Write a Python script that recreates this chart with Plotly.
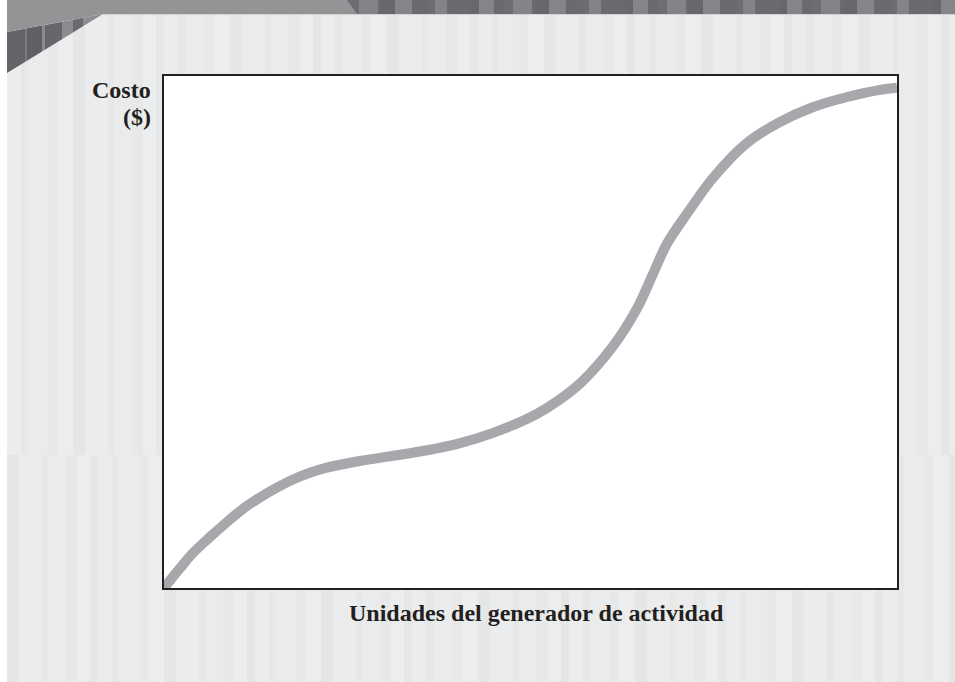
import plotly.graph_objects as go

# 曲线 (读图估计, 0-100 相对单位)
units = [0, 2.2, 4.0, 6.3, 8.6, 10.8, 13.1, 15.4, 17.6, 19.9, 22.2, 26.7, 31.2, 35.9,
         40.4, 44.9, 49.5, 52.3, 56.8, 61.3, 64.5, 66.7, 68.6, 71.4, 74.9, 79.5, 84.0,
         88.5, 93.2, 97.7, 100]
cost = [0, 3.9, 6.9, 10.0, 12.9, 15.5, 17.7, 19.6, 21.2, 22.5, 23.5, 24.8, 25.8, 26.9,
        28.3, 30.3, 33.0, 35.2, 40.0, 47.3, 54.5, 61.3, 67.2, 73.2, 80.1, 86.9, 91.0,
        93.9, 95.9, 97.3, 97.7]
x_label = 'Unidades del generador de actividad'
y_label = ['Costo', '($)']

W, H = 955, 682
TXT = '#231f20'
FONT = 'Liberation Serif'


def px(x):
    return x / W


def py(y):
    return 1 - y / H


def stripes(x_start, x_end, y0, y1, widths, colors, offset=0):
    """竖条纹背景 (像素坐标 -> paper)"""
    out = []
    x = x_start
    i = offset
    while x < x_end:
        w = widths[i % len(widths)]
        x2 = min(x + w, x_end)
        out.append(dict(type='rect', xref='paper', yref='paper',
                        x0=px(x), x1=px(x2), y0=py(y1), y1=py(y0),
                        fillcolor=colors[i % len(colors)], line_width=0, layer='below'))
        x = x2
        i += 1
    return out


shapes = []
# 浅色条纹背景 (上下两段错开)
bg_w = [14, 7, 20, 9, 16, 12, 23, 6, 18, 11, 13, 8]
bg_c = ['#ebeced', '#e6e8e7', '#eaebec', '#e7e9e8', '#ecedee', '#e5e7e6']
shapes += stripes(7, W, 14, 455, bg_w, bg_c)
shapes += stripes(7, W, 455, H, bg_w, bg_c, offset=5)

# 顶部深色条带
top_w = [10, 9, 19, 3, 14, 17, 17, 6, 12, 24, 8, 15]
top_c = ['#6a6b6f', '#6d6e72', '#838487', '#6a6b6f', '#67686c', '#848588']
shapes += stripes(340, W, 0, 14, top_w, top_c)
shapes.append(dict(type='line', xref='paper', yref='paper', x0=px(103), x1=px(W),
                   y0=py(14.5), y1=py(14.5), line=dict(color='#d3d4d5', width=1), layer='below'))

# 左上角深色三角条纹
tri_x = [7, 25, 27, 42, 45, 62, 73, 83, 103]
tri_c = ['#636468', '#7a7b7e', '#5f6064', '#8a8b8e', '#66676b', '#8a8b8e', '#6a6b6f', '#8c8d90']


def y_top(x):
    return 32 - 18 * (x - 7) / 96


def y_bot(x):
    return 73 - 59 * (x - 7) / 96


for i in range(len(tri_x) - 1):
    a, b = tri_x[i], tri_x[i + 1]
    path = (f"M {px(a)},{py(y_top(a))} L {px(b)},{py(y_top(b))} "
            f"L {px(b)},{py(y_bot(b))} L {px(a)},{py(y_bot(a))} Z")
    shapes.append(dict(type='path', xref='paper', yref='paper', path=path,
                       fillcolor=tri_c[i], line_width=0, layer='below'))

# 顶部浅灰斜角块
grey = (f"M {px(7)},{py(0)} L {px(347)},{py(0)} L {px(357)},{py(14)} "
        f"L {px(103)},{py(14)} L {px(7)},{py(32)} Z")
shapes.append(dict(type='path', xref='paper', yref='paper', path=grey,
                   fillcolor='#939496', line_width=0, layer='below'))

# 绘图区白底
shapes.append(dict(type='rect', xref='paper', yref='paper', x0=px(164), x1=px(897),
                   y0=py(588), y1=py(76), fillcolor='white', line_width=0, layer='below'))

fig = go.Figure()
fig.add_trace(go.Scatter(
    x=units, y=cost, mode='lines',
    line=dict(color='#a7a8ab', width=10, shape='spline', smoothing=1.0),
    showlegend=False, hoverinfo='skip',
))

axis_common = dict(showline=True, mirror=True, linecolor=TXT, linewidth=2,
                   showticklabels=False, ticks='', showgrid=False, zeroline=False,
                   fixedrange=True)

fig.update_layout(
    width=W, height=H,
    margin=dict(l=0, r=0, t=0, b=0),
    paper_bgcolor='white',
    plot_bgcolor='rgba(0,0,0,0)',
    xaxis=dict(domain=[px(164), px(897)], range=[0, 100], **axis_common),
    yaxis=dict(domain=[py(588), py(76)], range=[0, 100], **axis_common),
    shapes=shapes,
    annotations=[
        dict(x=px(153), y=py(90), xref='paper', yref='paper', xanchor='right', yanchor='middle',
             text=f'<b>{y_label[0]}</b>', showarrow=False,
             font=dict(family=FONT, size=24, color=TXT)),
        dict(x=px(153), y=py(117), xref='paper', yref='paper', xanchor='right', yanchor='middle',
             text=f'<b>{y_label[1]}</b>', showarrow=False,
             font=dict(family=FONT, size=24, color=TXT)),
        dict(x=px(536), y=py(613), xref='paper', yref='paper', xanchor='center', yanchor='middle',
             text=f'<b>{x_label}</b>', showarrow=False,
             font=dict(family=FONT, size=24, color=TXT)),
    ],
)

fig.write_html("out.html", config={'displayModeBar': False},
               post_script="document.body.style.margin='0px';document.body.style.overflow='hidden';")
